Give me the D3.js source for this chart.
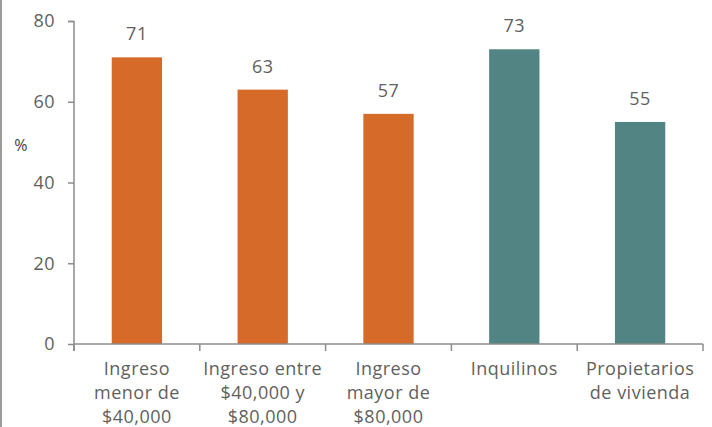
<!DOCTYPE html>
<html>
<head>
<meta charset="utf-8">
<script src="https://cdn.jsdelivr.net/npm/d3@7"></script>
<style>
  body { margin: 0; background: #fff; }
  svg { display: block; font-family: "Open Sans", sans-serif; letter-spacing: 0.5px; }
</style>
</head>
<body>
<svg id="chart" width="712" height="427"></svg>
<script>
    // categories (each label split into lines) and values
    var categories = [
        ["Ingreso", "menor de", "$40,000"],
        ["Ingreso entre", "$40,000 y", "$80,000"],
        ["Ingreso", "mayor de", "$80,000"],
        ["Inquilinos"],
        ["Propietarios", "de vivienda"]
    ];
    var values = [71, 63, 57, 73, 55];
    var groups = ["ingreso", "ingreso", "ingreso", "tenencia", "tenencia"];
    var yTicks = [0, 20, 40, 60, 80];

    var color = d3.scaleOrdinal()
        .domain(["ingreso", "tenencia"])
        .range(["#d66a28", "#518483"]);

    var textColor = "#5f5f5f";
    var axisColor = "#8c8c8c";

    var margin = { top: 21, right: 10, bottom: 83, left: 74 };
    var width = 703 - margin.left;
    var height = 344 - margin.top;

    var svg = d3.select("#chart");

    // thin grey border at left edge
    svg.append("rect")
        .attr("x", 0).attr("y", 0)
        .attr("width", 2).attr("height", 427)
        .attr("fill", "#9a9a9a");

    var g = svg.append("g")
        .attr("transform", "translate(" + margin.left + "," + margin.top + ")");

    var keys = categories.map(function (d, i) { return i; });

    var xScale = d3.scaleBand()
        .domain(keys)
        .range([0, width])
        .paddingInner(0.6)
        .paddingOuter(0.3);

    var xTicksScale = d3.scaleBand().domain(keys).range([0, width]);

    var yScale = d3.scaleLinear()
        .domain([0, 80])
        .range([height, 0]);

    // bars
    g.selectAll(".bar")
        .data(values)
        .enter().append("rect")
        .attr("class", "bar")
        .attr("x", function (d, i) { return xScale(i); })
        .attr("y", function (d) { return yScale(d); })
        .attr("width", xScale.bandwidth())
        .attr("height", function (d) { return height - yScale(d); })
        .attr("fill", function (d, i) { return color(groups[i]); });

    // value labels
    g.selectAll(".val")
        .data(values)
        .enter().append("text")
        .attr("class", "val")
        .attr("x", function (d, i) { return xScale(i) + xScale.bandwidth() / 2; })
        .attr("y", function (d) { return yScale(d) - 17; })
        .attr("text-anchor", "middle")
        .attr("fill", textColor)
        .style("font-size", "18px")
        .text(function (d) { return d; });

    // y axis
    var yAxis = g.append("g")
        .attr("class", "y-axis")
        .call(d3.axisLeft(yScale).tickValues(yTicks).tickSize(6).tickPadding(13));
    yAxis.select(".domain").attr("stroke", axisColor).attr("stroke-width", 1.5)
        .attr("d", "M-6,0.5H0V" + (height + 7));
    yAxis.selectAll(".tick line").attr("stroke", axisColor).attr("stroke-width", 1.5);
    yAxis.selectAll(".tick text")
        .attr("fill", textColor)
        .style("font-size", "18px")
        .style("font-family", "'Open Sans', sans-serif");

    // x axis: ticks at band boundaries
    var xAxis = g.append("g")
        .attr("class", "x-axis")
        .attr("transform", "translate(0," + height + ")");
    xAxis.append("line")
        .attr("x1", 0).attr("x2", width)
        .attr("stroke", axisColor).attr("stroke-width", 1.5);
    var bounds = keys.map(function (k) { return xTicksScale(k); }).concat([width]);
    xAxis.selectAll(".xtick")
        .data(bounds)
        .enter().append("line")
        .attr("class", "xtick")
        .attr("x1", function (d) { return d; })
        .attr("x2", function (d) { return d; })
        .attr("y1", 0).attr("y2", 7)
        .attr("stroke", axisColor).attr("stroke-width", 1.5);

    // category labels
    var labels = xAxis.selectAll(".xlabel")
        .data(categories)
        .enter().append("text")
        .attr("class", "xlabel")
        .attr("text-anchor", "middle")
        .attr("fill", textColor)
        .style("font-size", "18px")
        .attr("transform", function (d, i) {
            return "translate(" + (xTicksScale(i) + xTicksScale.bandwidth() / 2) + ",31)";
        });
    labels.selectAll("tspan")
        .data(function (d) { return d; })
        .enter().append("tspan")
        .attr("x", 0)
        .attr("dy", function (d, i) { return i === 0 ? 0 : 24; })
        .text(function (d) { return d; });

    // y axis title
    svg.append("text")
        .attr("x", 21)
        .attr("y", 151)
        .attr("text-anchor", "middle")
        .attr("fill", "#404040")
        .style("font-size", "16px")
        .text("%");
</script>
</body>
</html>
